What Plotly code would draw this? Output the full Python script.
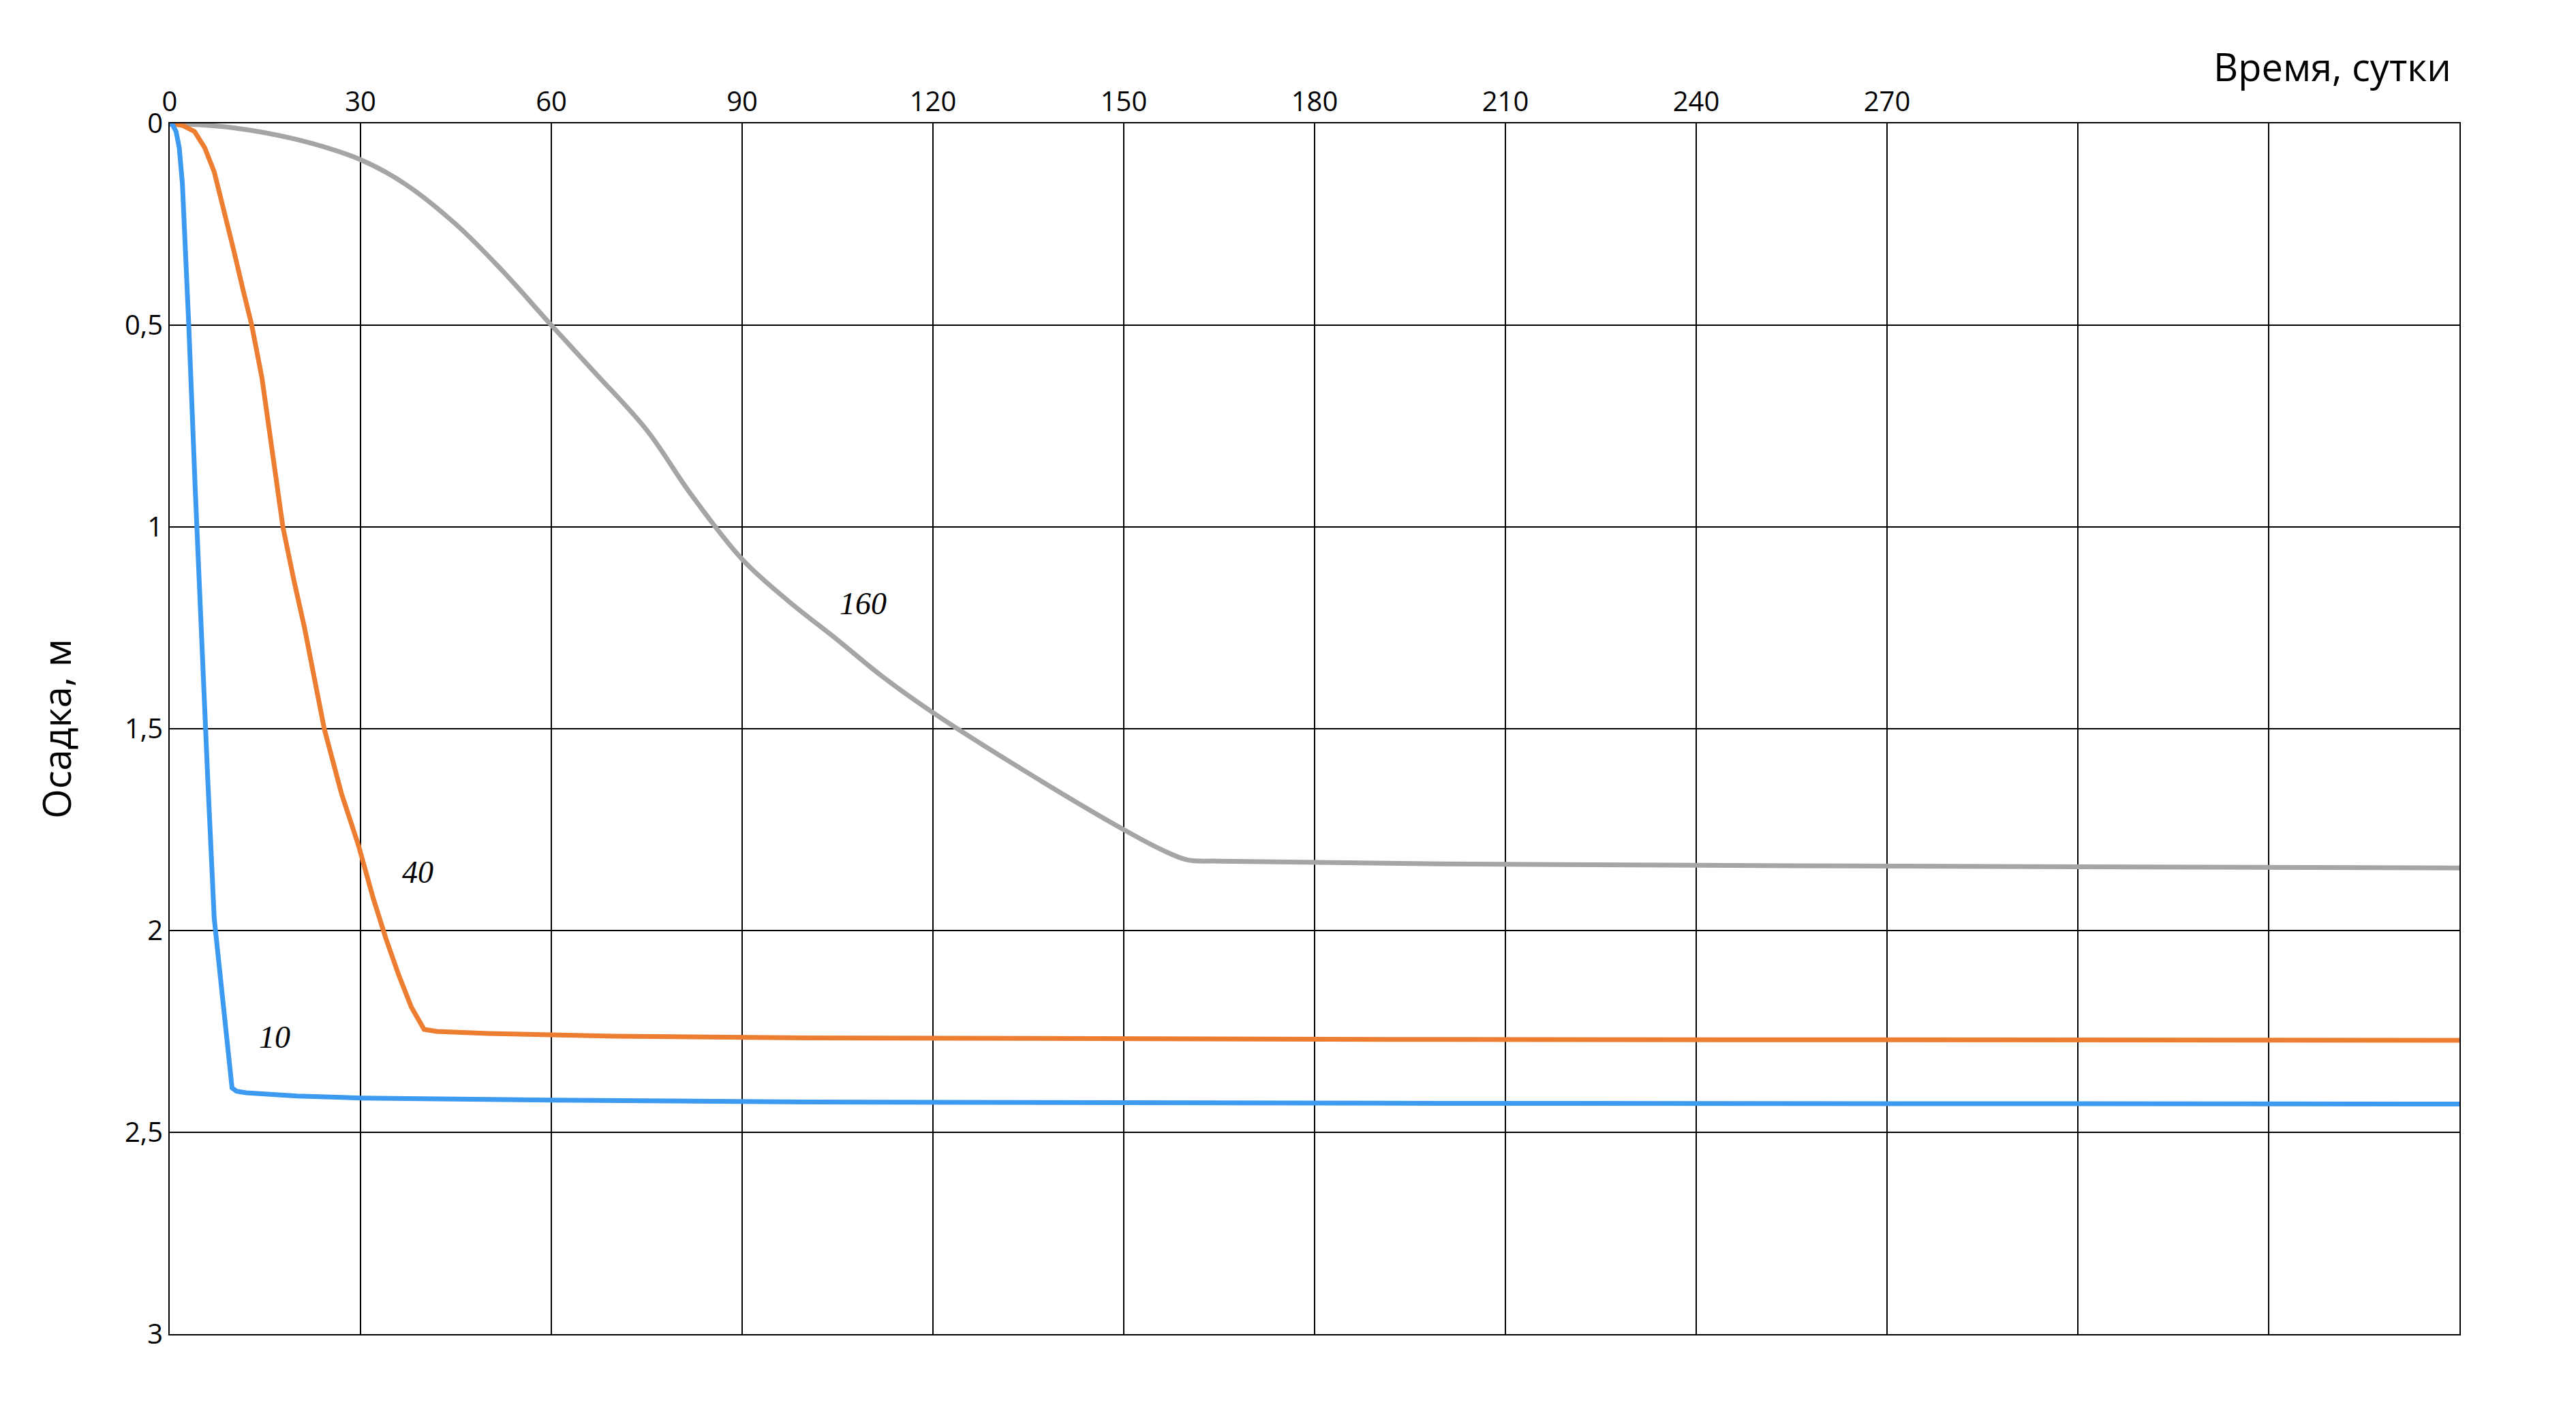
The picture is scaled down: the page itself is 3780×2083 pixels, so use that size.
import plotly.graph_objects as go

t10 = [0, 0.5, 1, 1.5, 2, 2.5, 3, 4, 5, 6, 7, 8, 9, 9.8, 10.5, 12, 20, 30, 60, 100, 200, 364]
s10 = [0, 0.005, 0.02, 0.06, 0.15, 0.3, 0.5, 0.9, 1.3, 1.63, 1.97, 2.12, 2.27, 2.39, 2.398, 2.402, 2.41, 2.415, 2.42, 2.425, 2.428, 2.43]
t40 = [0, 2, 3.9, 5.5, 7, 8.5, 10, 11.5, 12.9, 14.5, 16, 17.8, 19.5, 21.2, 24.3, 27, 29.7, 32, 34, 36, 38, 40, 42, 50, 70, 100, 200, 364]
s40 = [0, 0.005, 0.02, 0.06, 0.12, 0.21, 0.31, 0.41, 0.5, 0.63, 0.8, 1.0, 1.13, 1.25, 1.5, 1.66, 1.79, 1.92, 2.02, 2.11, 2.19, 2.245, 2.25, 2.255, 2.262, 2.266, 2.27, 2.272]
t160 = [0, 9.6, 20, 30, 37, 45, 52, 60, 67, 75, 82, 90, 97, 105, 112, 120, 135, 150, 156, 160, 165, 200, 300, 364]
s160 = [0, 0.01, 0.04, 0.09, 0.15, 0.25, 0.36, 0.5, 0.62, 0.76, 0.92, 1.08, 1.18, 1.28, 1.37, 1.46, 1.61, 1.75, 1.8, 1.825, 1.828, 1.835, 1.842, 1.845]
xticks = [0, 30, 60, 90, 120, 150, 180, 210, 240, 270]
extra_grid = [300, 330]
yticks = [0, 0.5, 1, 1.5, 2, 2.5, 3]
ylabels = ["0", "0,5", "1", "1,5", "2", "2,5", "3"]
labels = [("10", 16.5, 2.265), ("40", 39, 1.855), ("160", 109, 1.19)]

fig = go.Figure()
for t, s, c, sh in [(t160, s160, "#A5A5A5", "spline"), (t40, s40, "#ED7D31", "linear"), (t10, s10, "#3C9BF0", "linear")]:
    fig.add_trace(go.Scatter(x=t, y=s, mode="lines", line=dict(color=c, width=7, shape=sh), showlegend=False, cliponaxis=False))
for txt, x, y in labels:
    fig.add_annotation(x=x, y=y, text=txt, showarrow=False,
                       font=dict(family="Liberation Serif", size=46, color="black", style="italic"))
fig.add_annotation(xref="paper", yref="paper", x=0.997, y=1.025, xanchor="right", yanchor="bottom", text="Время, сутки",
                   showarrow=False, font=dict(family="Open Sans", size=56, color="black"))
fig.update_layout(
    width=3780, height=2083, plot_bgcolor="white", paper_bgcolor="white",
    margin=dict(l=241, r=179, t=173, b=134),
    font=dict(family="Open Sans", size=40, color="black"),
)
fig.update_xaxes(range=[0, 360], side="top", tickvals=xticks, showgrid=True, gridcolor="black", gridwidth=2,
                 showline=True, linecolor="black", linewidth=2, mirror=True, zeroline=False, ticks="")
for xv in extra_grid:
    fig.add_shape(type="line", x0=xv, x1=xv, y0=0, y1=3, line=dict(color="black", width=2), layer="below")
fig.update_yaxes(range=[3, 0], tickvals=yticks, ticktext=ylabels, showgrid=True, gridcolor="black", gridwidth=2,
                 showline=True, linecolor="black", linewidth=2, mirror=True, zeroline=False, ticks="",
                 title=dict(text="Осадка, м", font=dict(size=56), standoff=60))
fig.write_html("out.html")
